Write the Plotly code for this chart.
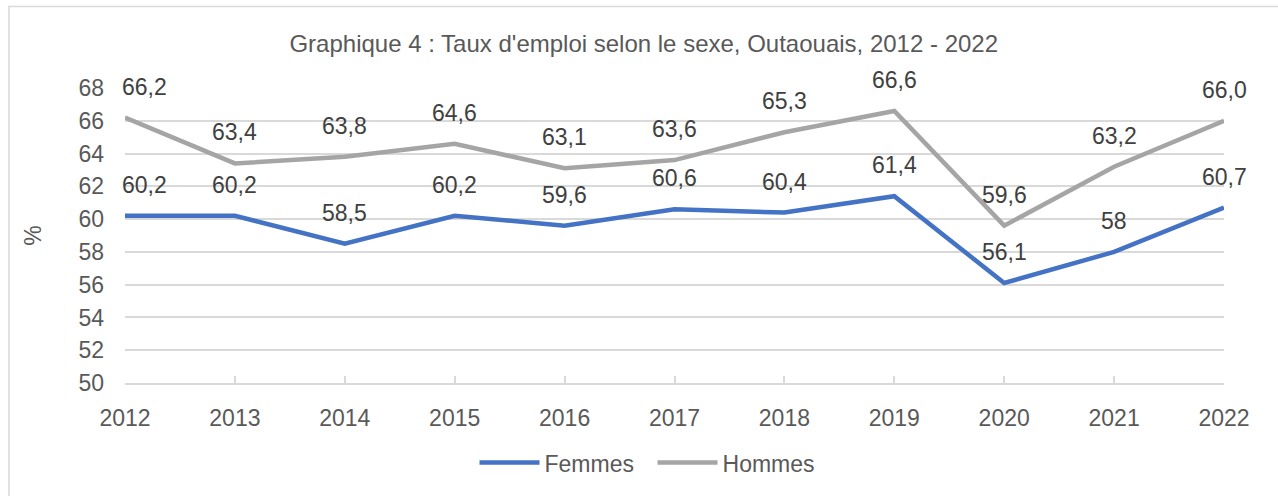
import plotly.graph_objects as go

years = [2012, 2013, 2014, 2015, 2016, 2017, 2018, 2019, 2020, 2021, 2022]
femmes = [60.2, 60.2, 58.5, 60.2, 59.6, 60.6, 60.4, 61.4, 56.1, 58.0, 60.7]
hommes = [66.2, 63.4, 63.8, 64.6, 63.1, 63.6, 65.3, 66.6, 59.6, 63.2, 66.0]
femmes_labels = ["60,2", "60,2", "58,5", "60,2", "59,6", "60,6", "60,4", "61,4", "56,1", "58", "60,7"]
hommes_labels = ["66,2", "63,4", "63,8", "64,6", "63,1", "63,6", "65,3", "66,6", "59,6", "63,2", "66,0"]
y_ticks = [50, 52, 54, 56, 58, 60, 62, 64, 66, 68]

FONT = "Arial, Liberation Sans, sans-serif"
TXT = "#595959"
GRID = "#d9d9d9"
FS = 23

fig = go.Figure()
fig.add_trace(go.Scatter(x=years, y=femmes, mode="lines", name="Femmes",
                         line=dict(color="#4472C4", width=4.5)))
fig.add_trace(go.Scatter(x=years, y=hommes, mode="lines", name="Hommes",
                         line=dict(color="#A5A5A5", width=4.5)))

annotations = []
for vals, labs in ((femmes, femmes_labels), (hommes, hommes_labels)):
    for i, (x, v, t) in enumerate(zip(years, vals, labs)):
        a = dict(x=x, y=v, text=t, showarrow=False, yshift=31,
                 font=dict(family=FONT, size=FS, color="#404040"),
                 xanchor="center", yanchor="middle")
        if i == 0:
            a["xanchor"] = "left"
            a["xshift"] = -5
        annotations.append(a)

fig.update_layout(
    width=1278, height=496,
    margin=dict(l=125, r=54, t=88, b=111),
    paper_bgcolor="white", plot_bgcolor="white",
    font=dict(family=FONT, color=TXT, size=FS),
    title=dict(text="Graphique 4 : Taux d'emploi selon le sexe, Outaouais, 2012 - 2022",
               x=0.472, xref="paper", xanchor="center", y=0.913, yanchor="middle",
               font=dict(size=24, color=TXT, family=FONT)),
    xaxis=dict(range=[2012, 2022], tickmode="array", tickvals=years,
               ticktext=[str(y) for y in years], showgrid=False, zeroline=False,
               showline=True, linecolor=GRID, linewidth=1.5,
               ticks="inside", ticklen=7, tickcolor=GRID, tickwidth=1.5,
               ticklabelstandoff=14,
               tickfont=dict(size=FS, color=TXT), fixedrange=True),
    yaxis=dict(range=[50, 68], tickmode="array", tickvals=y_ticks,
               showgrid=True, gridcolor=GRID, gridwidth=1.5, zeroline=False,
               showline=False, ticks="", ticklabelstandoff=20,
               tickfont=dict(size=FS, color=TXT),
               title=dict(text="%", font=dict(size=FS, color=TXT), standoff=30)),
    legend=dict(orientation="h", x=0.480, xanchor="center", y=-0.27, yanchor="middle",
                font=dict(size=FS, color=TXT), itemwidth=60, tracegroupgap=0,
                entrywidth=103, entrywidthmode="pixels"),
    annotations=annotations,
    shapes=[dict(type="rect", xref="paper", yref="paper",
                 x0=-0.1056, x1=1.2, y0=-0.5, y1=1.276,
                 line=dict(color=GRID, width=1.5), fillcolor="rgba(0,0,0,0)", layer="below")],
    showlegend=True,
)

fig.write_html("out.html")
